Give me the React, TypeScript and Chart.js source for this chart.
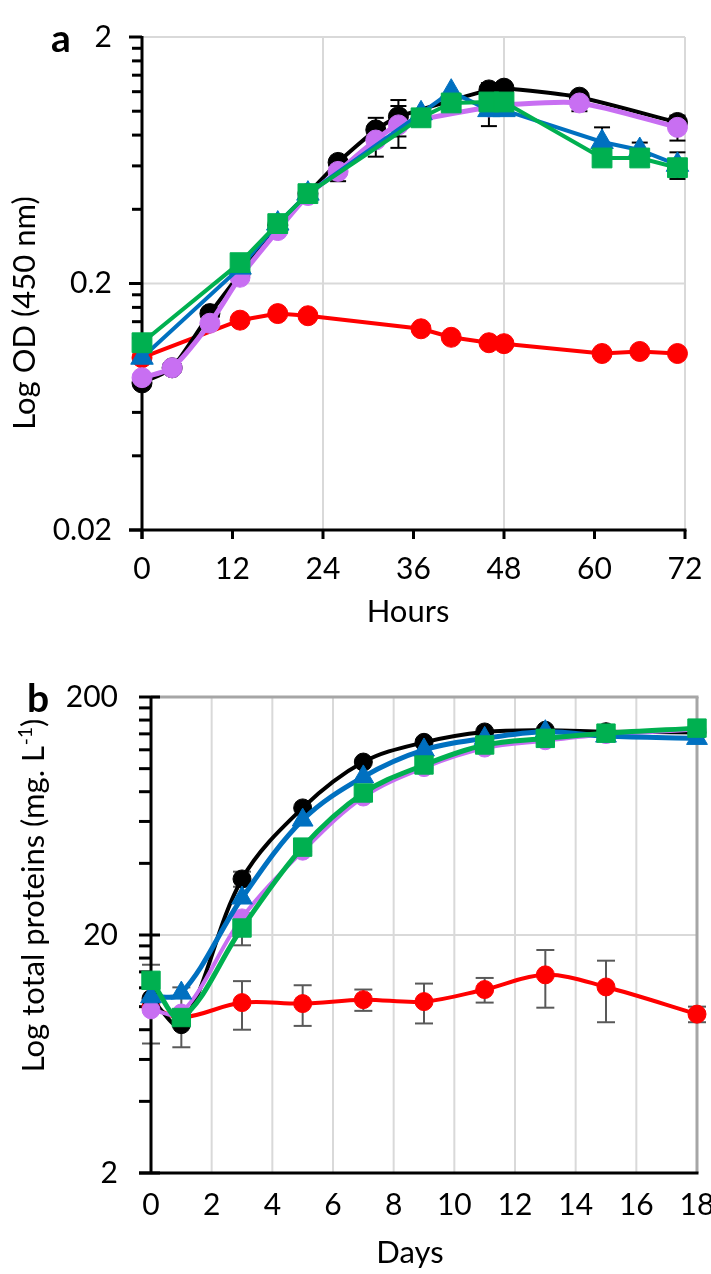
import React, { useEffect, useRef } from "react";
import { Chart, registerables } from "chart.js";
Chart.register(...registerables);

const FONT = "Lato, 'Open Sans', sans-serif";
const TICK_SIZE = 30;

// ---------- Panel a : Log OD vs hours ----------
const hours = [0, 4, 9, 13, 18, 22, 26, 31, 34, 37, 41, 46, 48, 58, 61, 66, 71];
const odBlack = [0.079, 0.091, 0.151, 0.219, 0.345, 0.463, 0.62, 0.84, 0.95, null, null, 1.22, 1.24, 1.14, null, null, 0.9];
const odPurple = [0.083, 0.091, 0.138, 0.212, 0.328, 0.455, 0.57, 0.764, 0.88, null, null, 1.04, 1.06, 1.08, null, null, 0.86];
const odBlue = [0.1, null, null, 0.232, 0.35, 0.463, null, null, null, 0.98, 1.2, 1.01, 1.01, null, 0.75, 0.696, 0.606];
const odGreen = [0.115, null, null, 0.243, 0.35, 0.463, null, null, null, 0.94, 1.08, 1.09, 1.09, null, 0.646, 0.646, 0.59];
const odRed = [0.1, null, null, 0.142, 0.151, 0.148, null, null, null, 0.131, 0.121, 0.115, 0.114, null, 0.104, 0.106, 0.104];

const odErrBlack = [null, null, null, null, null, null, null, 0.1, 0.16, null, null, 0.08, null, null, null, null, null];
const odErrPurple = [null, null, null, null, null, null, 0.05, 0.11, 0.17, null, null, null, null, 0.08, null, null, 0.1];
const odErrBlue = [null, null, null, null, null, null, null, null, null, null, null, 0.14, null, null, 0.11, 0.05, 0.075];
const odErrRed = [null, null, null, null, null, null, null, null, null, 0.006, null, null, null, null, null, null, null];

const hourTicks = [0, 12, 24, 36, 48, 60, 72];
const hourGrid = [24, 48, 72];
const odTicks = [0.02, 0.2, 2];
const odTickLabels = ["0.02", "0.2", "2"];

// ---------- Panel b : Log total proteins vs days ----------
const days = [0, 1, 3, 5, 7, 9, 11, 13, 15, 18];
const protBlack = [10.8, 8.4, 34.4, 68.4, 106.6, 129, 142.6, 145, 143, 142];
const protPurple = [9.7, 9.4, 23.6, 45, 76, 101, 122, 131, 139, 146];
const protBlue = [11.0, 11.4, 28.6, 60.8, 92.3, 119.8, 134, 143, 137, 134];
const protGreen = [12.9, 9.0, 21.4, 46.8, 79, 103.6, 125.7, 134, 141, 148];
const protRed = [10.0, 9.0, 10.4, 10.3, 10.7, 10.5, 11.8, 13.6, 12.1, 9.3];

const protErrBlack = [null, null, 2.5, null, null, null, null, null, null, null];
const protErrPurple = [null, 2.65, null, null, null, null, null, null, null, null];
const protErrBlue = [4.0, null, null, null, null, null, null, null, null, null];
const protErrGreen = [null, null, 3.3, null, null, null, null, null, null, null];
const protErrRed = [null, null, 2.4, 2.0, 1.1, 2.0, 1.4, 3.7, 3.5, 0.7];

const dayTicks = [0, 2, 4, 6, 8, 10, 12, 14, 16, 18];
const dayGrid = [2, 4, 6, 8, 10, 12, 14, 16];
const protTicks = [2, 20, 200];
const protTickLabels = ["2", "20", "200"];

const BLACK = "#000000";
const PURPLE = "#C86FF2";
const BLUE = "#0070C0";
const GREEN = "#00B050";
const RED = "#FF0000";

type Num = number | null;

function pts(xs: number[], ys: Num[]) {
  return xs.map((x, i) => ({ x, y: ys[i] })).filter((p) => p.y !== null);
}

function minorTicks(majors: number[]) {
  const out: number[] = [];
  for (let i = 0; i < majors.length - 1; i++) {
    for (let k = 2; k <= 9; k++) out.push(majors[i] * k);
  }
  return out;
}

type Decor = {
  xGrid: number[];
  yGrid: number[];
  gridColor: string;
  boxColor?: string;
  yMajor: number[];
  yMinor: number[];
  yMajorLeft: number;
  yMajorRight: number;
  yMinorLeft: number;
  xMajor: number[];
  xTickLen: number;
  errors: { xs: number[]; ys: Num[]; err: Num[] }[];
  errColor: string;
  capHalf: number;
  letter: string;
  letterX: number;
  letterY: number;
  letterSize: number;
  xTitle: string;
  xTitleX: number;
  xTitleY: number;
  yTitle: string;
  yTitleSup?: string;
  yTitleTail?: string;
  yTitleX: number;
  yTitleY: number;
  titleSize: number;
};

function decorPlugin(d: Decor) {
  return {
    id: "decor",
    beforeDatasetsDraw(chart: any) {
      const { ctx, chartArea: a, scales } = chart;
      const xs = scales.x;
      const ys = scales.y;
      const line = (x1: number, y1: number, x2: number, y2: number) => {
        ctx.beginPath();
        ctx.moveTo(x1, y1);
        ctx.lineTo(x2, y2);
        ctx.stroke();
      };
      ctx.save();
      ctx.lineCap = "butt";
      // grid
      ctx.lineWidth = 2;
      ctx.strokeStyle = d.gridColor;
      for (const v of d.xGrid) {
        const x = xs.getPixelForValue(v);
        line(x, a.top, x, a.bottom);
      }
      for (const v of d.yGrid) {
        const y = ys.getPixelForValue(v);
        line(a.left, y, a.right, y);
      }
      if (d.boxColor) {
        ctx.strokeStyle = d.boxColor;
        ctx.lineWidth = 3;
        line(a.left, a.top, a.right + 1.5, a.top);
        line(a.right, a.top, a.right, a.bottom);
      }
      // error bars
      ctx.strokeStyle = d.errColor;
      ctx.lineWidth = 2;
      for (const s of d.errors) {
        s.xs.forEach((xv, i) => {
          const v = s.ys[i];
          const e = s.err[i];
          if (v === null || e === null || e === undefined) return;
          const x = xs.getPixelForValue(xv);
          const yt = ys.getPixelForValue(v + e);
          const yb = ys.getPixelForValue(Math.max(v - e, 1e-6));
          line(x, yt, x, yb);
          line(x - d.capHalf, yt, x + d.capHalf, yt);
          line(x - d.capHalf, yb, x + d.capHalf, yb);
        });
      }
      // axes
      ctx.strokeStyle = "#000";
      ctx.lineWidth = 3;
      line(a.left, a.top - 1, a.left, a.bottom + d.xTickLen);
      line(a.left - d.yMajorLeft, a.bottom, a.right + 1.5, a.bottom);
      for (const v of d.yMajor) {
        const y = ys.getPixelForValue(v);
        line(a.left - d.yMajorLeft, y, a.left + d.yMajorRight, y);
      }
      for (const v of d.yMinor) {
        const y = ys.getPixelForValue(v);
        line(a.left - d.yMinorLeft, y, a.left, y);
      }
      if (d.xTickLen > 0) {
        for (const v of d.xMajor) {
          const x = xs.getPixelForValue(v);
          line(x, a.bottom, x, a.bottom + d.xTickLen);
        }
      }
      // texts
      ctx.fillStyle = "#000";
      ctx.textBaseline = "alphabetic";
      ctx.textAlign = "left";
      ctx.font = `bold ${d.letterSize}px ${FONT}`;
      ctx.fillText(d.letter, d.letterX, d.letterY);
      ctx.font = `${d.titleSize}px ${FONT}`;
      ctx.textAlign = "center";
      ctx.fillText(d.xTitle, d.xTitleX, d.xTitleY);
      // y title (rotated)
      ctx.save();
      ctx.translate(d.yTitleX, d.yTitleY);
      ctx.rotate(-Math.PI / 2);
      ctx.textAlign = "left";
      const mainFont = `${d.titleSize}px ${FONT}`;
      const supFont = `${Math.round(d.titleSize * 0.62)}px ${FONT}`;
      ctx.font = mainFont;
      const w1 = ctx.measureText(d.yTitle).width;
      let w2 = 0;
      let w3 = 0;
      if (d.yTitleSup) {
        ctx.font = supFont;
        w2 = ctx.measureText(d.yTitleSup).width;
      }
      if (d.yTitleTail) {
        ctx.font = mainFont;
        w3 = ctx.measureText(d.yTitleTail).width;
      }
      let x0 = -(w1 + w2 + w3) / 2;
      ctx.font = mainFont;
      ctx.fillText(d.yTitle, x0, 0);
      x0 += w1;
      if (d.yTitleSup) {
        ctx.font = supFont;
        ctx.fillText(d.yTitleSup, x0 + 1, -d.titleSize * 0.38);
        x0 += w2 + 1;
      }
      if (d.yTitleTail) {
        ctx.font = mainFont;
        ctx.fillText(d.yTitleTail, x0, 0);
      }
      ctx.restore();
      ctx.restore();
    },
  };
}

function ds(label: string, data: any[], color: string, style: string, radius: number, width: number, tension: number) {
  return {
    label,
    data,
    borderColor: color,
    backgroundColor: color,
    pointBackgroundColor: color,
    pointBorderColor: color,
    pointBorderWidth: 1,
    pointStyle: style,
    pointRadius: radius,
    pointHoverRadius: radius,
    borderWidth: width,
    tension,
    clip: false as any,
  };
}

function baseScales(
  xMin: number,
  xMax: number,
  xTicks: number[],
  yMin: number,
  yMax: number,
  yTicks: number[],
  yLabels: string[],
  yWidth: number,
  xHeight: number,
  xPad: number,
  yPad: number
) {
  return {
    x: {
      type: "linear" as const,
      min: xMin,
      max: xMax,
      afterBuildTicks: (s: any) => {
        s.ticks = xTicks.map((v) => ({ value: v }));
      },
      afterFit: (s: any) => {
        s.height = xHeight;
        s.paddingLeft = 0;
        s.paddingRight = 0;
      },
      ticks: {
        font: { family: FONT, size: TICK_SIZE },
        color: "#000",
        padding: xPad,
        maxRotation: 0,
        autoSkip: false,
        callback: (v: any) => String(v),
      },
      grid: { display: false, drawTicks: false },
      border: { display: false },
    },
    y: {
      type: "logarithmic" as const,
      min: yMin,
      max: yMax,
      afterBuildTicks: (s: any) => {
        s.ticks = yTicks.map((v) => ({ value: v }));
      },
      afterFit: (s: any) => {
        s.width = yWidth;
        s.paddingTop = 0;
        s.paddingBottom = 0;
      },
      ticks: {
        font: { family: FONT, size: TICK_SIZE },
        color: "#000",
        padding: yPad,
        autoSkip: false,
        callback: (_v: any, i: number) => yLabels[i],
      },
      grid: { display: false, drawTicks: false },
      border: { display: false },
    },
  };
}

export default function App() {
  const refA = useRef<HTMLCanvasElement | null>(null);
  const refB = useRef<HTMLCanvasElement | null>(null);

  useEffect(() => {
    const chartA = new Chart(refA.current as HTMLCanvasElement, {
      type: "line",
      data: {
        datasets: [
          ds("Green", pts(hours, odGreen), GREEN, "rect", 14, 4, 0),
          ds("Blue", pts(hours, odBlue), BLUE, "triangle", 13, 4, 0),
          ds("Purple", pts(hours, odPurple), PURPLE, "circle", 10, 5, 0.25),
          ds("Black", pts(hours, odBlack), BLACK, "circle", 10, 4, 0.2),
          ds("Red", pts(hours, odRed), RED, "circle", 10, 4, 0),
        ] as any,
      },
      options: {
        animation: false,
        responsive: false,
        maintainAspectRatio: false,
        layout: { padding: { left: 0, right: 26, top: 37, bottom: 0 } },
        plugins: { legend: { display: false }, tooltip: { enabled: false } },
        scales: baseScales(0, 72, hourTicks, 0.02, 2, odTicks, odTickLabels, 142, 110, 21, 30) as any,
      },
      plugins: [
        decorPlugin({
          xGrid: hourGrid,
          yGrid: [0.2, 2],
          gridColor: "#D9D9D9",
          yMajor: odTicks,
          yMinor: minorTicks(odTicks),
          yMajorLeft: 13,
          yMajorRight: 0,
          yMinorLeft: 10,
          xMajor: hourTicks,
          xTickLen: 9,
          errors: [
            { xs: hours, ys: odBlack, err: odErrBlack },
            { xs: hours, ys: odPurple, err: odErrPurple },
            { xs: hours, ys: odBlue, err: odErrBlue },
            { xs: hours, ys: odRed, err: odErrRed },
          ],
          errColor: "#000",
          capHalf: 8,
          letter: "a",
          letterX: 51,
          letterY: 52,
          letterSize: 39,
          xTitle: "Hours",
          xTitleX: 408,
          xTitleY: 622,
          yTitle: "Log OD (450 nm)",
          yTitleX: 35,
          yTitleY: 313,
          titleSize: 31,
        }),
      ],
    });

    const chartB = new Chart(refB.current as HTMLCanvasElement, {
      type: "line",
      data: {
        datasets: [
          ds("Green", pts(days, protGreen), GREEN, "rect", 13, 5, 0.35),
          ds("Blue", pts(days, protBlue), BLUE, "triangle", 12, 5, 0.35),
          ds("Purple", pts(days, protPurple), PURPLE, "circle", 9, 4, 0.35),
          ds("Black", pts(days, protBlack), BLACK, "circle", 9, 4, 0.35),
          ds("Red", pts(days, protRed), RED, "circle", 9, 4, 0.35),
        ] as any,
      },
      options: {
        animation: false,
        responsive: false,
        maintainAspectRatio: false,
        layout: { padding: { left: 0, right: 12, top: 57, bottom: 0 } },
        plugins: { legend: { display: false }, tooltip: { enabled: false } },
        scales: baseScales(0, 18, dayTicks, 2, 200, protTicks, protTickLabels, 151, 101, 14, 33) as any,
      },
      plugins: [
        decorPlugin({
          xGrid: dayGrid,
          yGrid: [20],
          gridColor: "#D9D9D9",
          boxColor: "#A6A6A6",
          yMajor: protTicks,
          yMinor: minorTicks(protTicks),
          yMajorLeft: 12,
          yMajorRight: 9,
          yMinorLeft: 12,
          xMajor: dayTicks,
          xTickLen: 0,
          errors: [
            { xs: days, ys: protBlack, err: protErrBlack },
            { xs: days, ys: protPurple, err: protErrPurple },
            { xs: days, ys: protBlue, err: protErrBlue },
            { xs: days, ys: protGreen, err: protErrGreen },
            { xs: days, ys: protRed, err: protErrRed },
          ],
          errColor: "#595959",
          capHalf: 9,
          letter: "b",
          letterX: 27,
          letterY: 72,
          letterSize: 39,
          xTitle: "Days",
          xTitleX: 410,
          xTitleY: 623,
          yTitle: "Log total proteins (mg. L",
          yTitleSup: "-1",
          yTitleTail: ")",
          yTitleX: 44,
          yTitleY: 256,
          titleSize: 31,
        }),
      ],
    });

    return () => {
      chartA.destroy();
      chartB.destroy();
    };
  }, []);

  return (
    <div style={{ position: "absolute", left: 0, top: 0, width: 711, height: 1274, background: "#fff" }}>
      <canvas ref={refA} width={711} height={640} style={{ position: "absolute", left: 0, top: 0, display: "block" }} />
      <canvas ref={refB} width={711} height={634} style={{ position: "absolute", left: 0, top: 640, display: "block" }} />
    </div>
  );
}
